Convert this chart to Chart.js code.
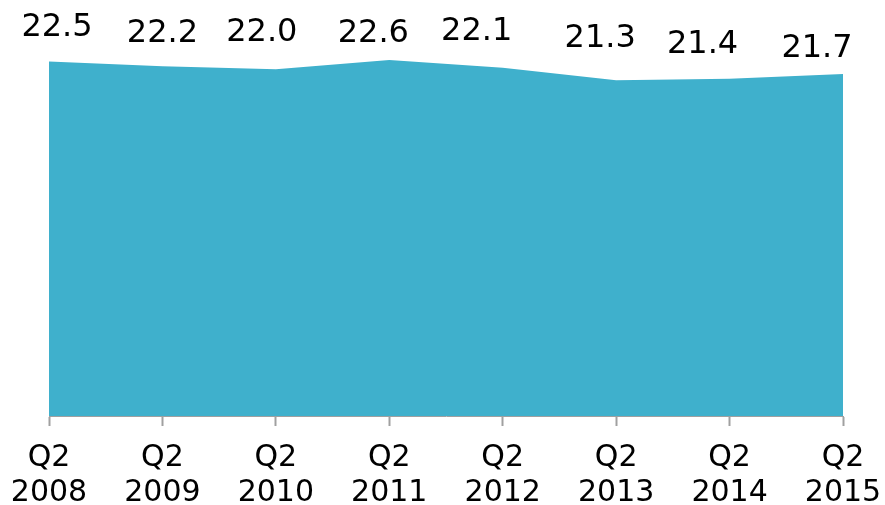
<!DOCTYPE html>
<html>
<head>
<meta charset="utf-8">
<script src="https://cdn.jsdelivr.net/npm/chart.js@4/dist/chart.umd.min.js"></script>
<style>
  html, body { margin: 0; padding: 0; background: #fff; }
  #wrap { width: 885px; height: 505px; }
</style>
</head>
<body>
<div id="wrap"><canvas id="areaChart" width="885" height="505"></canvas></div>
<script>
const quarters = ['Q2', 'Q2', 'Q2', 'Q2', 'Q2', 'Q2', 'Q2', 'Q2'];
const years = ['2008', '2009', '2010', '2011', '2012', '2013', '2014', '2015'];
const values = [22.5, 22.2, 22.0, 22.6, 22.1, 21.3, 21.4, 21.7];

// hand placed value labels in the original, nudged from each point
const labelNudgeX = [8, 0, -14, -16, -26, -16, -27, -26];
const labelNudgeY = [25, 24, 28, 18, 28, 33, 26, 17];

const fillColour = '#3fb0cc';
const axisGrey = '#a0a0a0';

const valueLabels = {
  id: 'valueLabels',
  afterDatasetsDraw(chart) {
    const ctx = chart.ctx;
    const meta = chart.getDatasetMeta(0);
    ctx.save();
    ctx.font = '32px "DejaVu Sans", Verdana, sans-serif';
    ctx.fillStyle = '#000';
    ctx.textAlign = 'center';
    ctx.textBaseline = 'alphabetic';
    meta.data.forEach((pt, i) => {
      ctx.fillText(values[i].toFixed(1), pt.x + labelNudgeX[i], pt.y - labelNudgeY[i]);
    });
    ctx.restore();
  }
};

const labels = quarters.map((q, i) => [q, years[i]]);

new Chart(document.getElementById('areaChart'), {
  type: 'line',
  data: {
    labels: labels,
    datasets: [{
      data: values,
      fill: 'origin',
      backgroundColor: fillColour,
      borderColor: fillColour,
      borderWidth: 0,
      pointRadius: 0,
      tension: 0
    }]
  },
  options: {
    responsive: false,
    devicePixelRatio: 1,
    animation: false,
    layout: {
      padding: { top: 0, left: 49, right: 42, bottom: 0 }
    },
    plugins: {
      legend: { display: false },
      title: { display: false },
      tooltip: { enabled: false }
    },
    scales: {
      x: {
        offset: false,
        afterFit(scale) {
          scale.height = 89;
          // let the layout padding decide the edges, not the label widths
          scale.paddingLeft = 0;
          scale.paddingRight = 0;
        },
        border: { display: true, color: axisGrey, width: 1 },
        grid: {
          display: true,
          drawOnChartArea: false,
          drawTicks: true,
          tickLength: 10,
          tickWidth: 2,
          tickColor: axisGrey
        },
        ticks: {
          color: '#000',
          maxRotation: 0,
          autoSkip: false,
          padding: 15,
          font: { family: '"DejaVu Sans", Verdana, sans-serif', size: 30, lineHeight: 1.17 }
        }
      },
      y: {
        display: false,
        min: 0,
        max: 26.4
      }
    }
  },
  plugins: [valueLabels]
});
</script>
</body>
</html>
